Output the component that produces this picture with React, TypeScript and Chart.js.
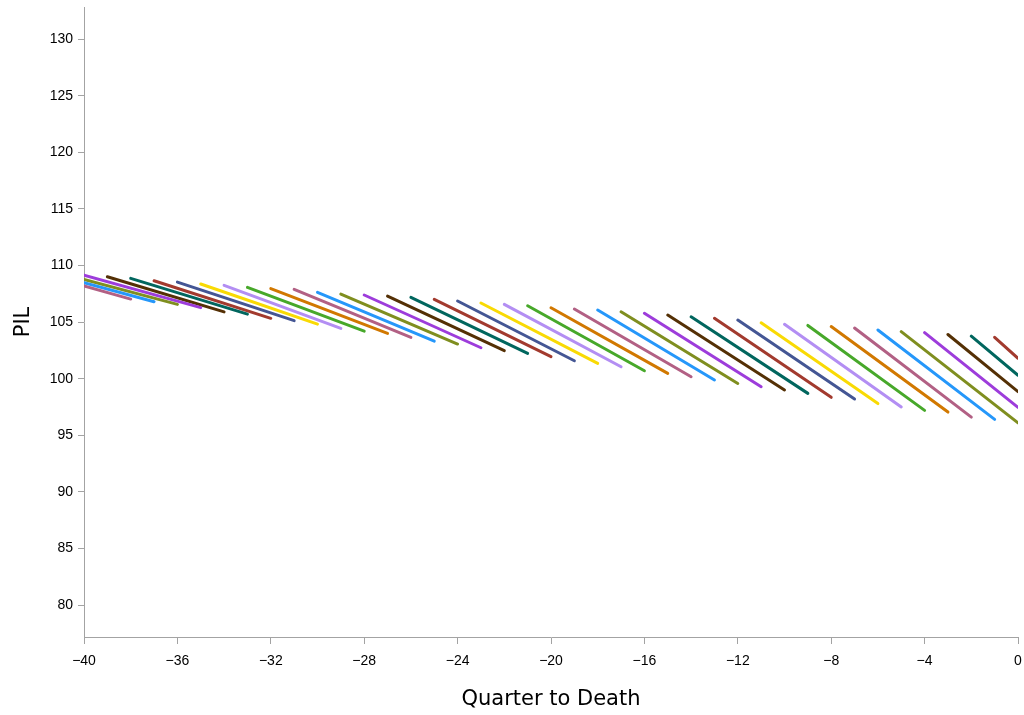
import React, { useEffect, useRef } from 'react';
import { Chart, registerables } from 'chart.js';

Chart.register(...registerables);

// One segment per cohort, each running over (up to) five quarters, clipped to [-40, 0]
const segStartQuarter = [
  -40, -40, -40, -40, -39, -38, -37, -36, -35, -34, -33, -32, -31, -30, -29, -28, -27, -26, -25, -24, -23, -22,
  -21, -20, -19, -18, -17, -16, -15, -14, -13, -12, -11, -10, -9, -8, -7, -6, -5, -4, -3, -2, -1,
];
const segEndQuarter = [
  -38, -37, -36, -35, -34, -33, -32, -31, -30, -29, -28, -27, -26, -25, -24, -23, -22, -21, -20, -19, -18, -17,
  -16, -15, -14, -13, -12, -11, -10, -9, -8, -7, -6, -5, -4, -3, -2, -1, 0, 0, 0, 0, 0,
];
const segStartPIL = [
  108.18, 108.47, 108.77, 109.15, 109.0, 108.86, 108.65, 108.53, 108.36, 108.24, 108.06, 107.95, 107.89, 107.62,
  107.47, 107.39, 107.3, 107.18, 107.0, 106.86, 106.68, 106.56, 106.44, 106.26, 106.15, 106.06, 105.91, 105.77,
  105.62, 105.47, 105.33, 105.18, 104.94, 104.8, 104.7, 104.6, 104.47, 104.3, 104.15, 104.06, 103.9, 103.76, 103.65,
];
const segEndPIL = [
  107.03, 106.8, 106.56, 106.27, 105.9, 105.7, 105.33, 105.12, 104.82, 104.44, 104.2, 104.0, 103.65, 103.32, 103.06,
  102.73, 102.47, 102.23, 101.94, 101.58, 101.35, 101.05, 100.7, 100.47, 100.17, 99.88, 99.58, 99.29, 99.0, 98.7,
  98.35, 98.2, 97.8, 97.5, 97.2, 97.05, 96.6, 96.4, 96.1, 97.46, 98.85, 100.3, 101.8,
];
// Cohort color group index into the palette
const segColorGroup = [
  7, 6, 5, 4, 3, 2, 1, 0, 11, 10, 9, 8, 7, 6, 5, 4, 3, 2, 1, 0, 11, 10, 9, 8, 7, 6, 5, 4, 3, 2, 1, 0, 11, 10, 9, 8, 7,
  6, 5, 4, 3, 2, 1,
];

const xTickValues = [-40, -36, -32, -28, -24, -20, -16, -12, -8, -4, 0];
const yTickValues = [80, 85, 90, 95, 100, 105, 110, 115, 120, 125, 130];

const palette = [
  '#445694', '#A23A2E', '#01665E', '#543005', '#9D3CDB', '#7F8E1F',
  '#2597FA', '#B26084', '#D17800', '#47A82A', '#B38EF3', '#F9DA04',
];

const AXIS_GREY = '#a3a3a3';
const TICK_FONT = { family: '"Liberation Sans Narrow", "Liberation Sans", Arial, sans-serif', size: 14 };
const TITLE_FONT = { family: '"DejaVu Sans", sans-serif', size: 21 };

export default function App() {
  const canvasRef = useRef<HTMLCanvasElement | null>(null);

  useEffect(() => {
    if (!canvasRef.current) return;
    const datasets = segStartQuarter.map((xs, i) => ({
      label: 'Cohort ' + (i + 1),
      data: [
        { x: xs, y: segStartPIL[i] },
        { x: segEndQuarter[i], y: segEndPIL[i] },
      ],
      borderColor: palette[segColorGroup[i]],
      backgroundColor: palette[segColorGroup[i]],
      borderWidth: 3,
      borderCapStyle: 'round' as const,
      pointRadius: 0,
      fill: false,
      tension: 0,
    }));

    const chart = new Chart(canvasRef.current, {
      type: 'line',
      data: { datasets },
      options: {
        animation: false,
        responsive: false,
        maintainAspectRatio: false,
        layout: { padding: { top: 7, right: 6, bottom: 0, left: 0 } },
        plugins: {
          legend: { display: false },
          tooltip: { enabled: false },
        },
        scales: {
          x: {
            type: 'linear',
            min: -40,
            max: 0,
            afterBuildTicks: (s: any) => {
              s.ticks = xTickValues.map((v) => ({ value: v }));
            },
            afterFit: (s: any) => {
              s.height = 78;
              s.paddingLeft = 0;
              s.paddingRight = 0;
            },
            grid: { display: true, drawOnChartArea: false, drawTicks: true, tickLength: 7, color: AXIS_GREY },
            border: { display: true, color: AXIS_GREY, width: 1 },
            ticks: {
              autoSkip: false,
              maxRotation: 0,
              padding: 9,
              color: '#000',
              font: TICK_FONT,
              callback: (v: any) => (Number(v) < 0 ? '\u2212' + Math.abs(Number(v)) : String(v)),
            },
            title: {
              display: true,
              text: 'Quarter to Death',
              color: '#000',
              font: TITLE_FONT,
              padding: { top: 0, bottom: 3 },
            },
          },
          y: {
            type: 'linear',
            min: 77.18,
            max: 132.83,
            afterBuildTicks: (s: any) => {
              s.ticks = yTickValues.map((v) => ({ value: v }));
            },
            afterFit: (s: any) => {
              s.width = 84;
              s.paddingTop = 0;
              s.paddingBottom = 0;
            },
            grid: { display: true, drawOnChartArea: false, drawTicks: true, tickLength: 6, color: AXIS_GREY },
            border: { display: true, color: AXIS_GREY, width: 1 },
            ticks: {
              autoSkip: false,
              padding: 5,
              color: '#000',
              font: TICK_FONT,
              callback: (v: any) => String(v),
            },
            title: {
              display: true,
              text: 'PIL',
              color: '#000',
              font: TITLE_FONT,
              padding: { top: 11, bottom: 0 },
            },
          },
        },
      },
    });
    return () => chart.destroy();
  }, []);

  return (
    <div style={{ position: 'absolute', left: 0, top: 0, width: 1024, height: 715, background: '#fff' }}>
      <canvas ref={canvasRef} width={1024} height={715} style={{ display: 'block', width: 1024, height: 715 }} />
    </div>
  );
}
